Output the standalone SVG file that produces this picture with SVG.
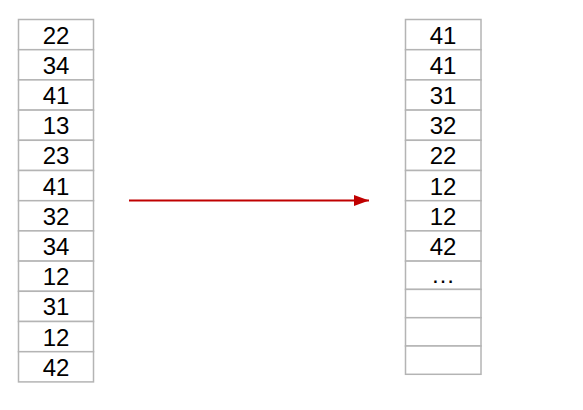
<svg xmlns="http://www.w3.org/2000/svg" width="583" height="410" viewBox="0 0 583 410">
<style>
.cell{fill:#ffffff;stroke:#b4b4b4;stroke-width:1.5}
.t{font-family:"Liberation Sans",Arial,sans-serif;font-size:24px;fill:#000;text-anchor:middle}
</style>
<defs>
<marker id="ah" markerWidth="15" markerHeight="11" refX="15" refY="5.5" orient="auto" markerUnits="userSpaceOnUse">
<path d="M0,0 L15,5.5 L0,11 Z" fill="#c00000"/>
</marker>
</defs>
<rect width="583" height="410" fill="#ffffff"/>
<g id="left-array">
<rect class="cell" x="18.5" y="19.5" width="75" height="30.2"/>
<rect class="cell" x="18.5" y="49.7" width="75" height="30.2"/>
<rect class="cell" x="18.5" y="79.9" width="75" height="30.2"/>
<rect class="cell" x="18.5" y="110.1" width="75" height="30.2"/>
<rect class="cell" x="18.5" y="140.3" width="75" height="30.2"/>
<rect class="cell" x="18.5" y="170.5" width="75" height="30.2"/>
<rect class="cell" x="18.5" y="200.7" width="75" height="30.2"/>
<rect class="cell" x="18.5" y="230.9" width="75" height="30.2"/>
<rect class="cell" x="18.5" y="261.1" width="75" height="30.2"/>
<rect class="cell" x="18.5" y="291.3" width="75" height="30.2"/>
<rect class="cell" x="18.5" y="321.5" width="75" height="30.2"/>
<rect class="cell" x="18.5" y="351.7" width="75" height="30.2"/>
<text class="t" x="56" y="43.5">22</text>
<text class="t" x="56" y="73.7">34</text>
<text class="t" x="56" y="103.9">41</text>
<text class="t" x="56" y="134.1">13</text>
<text class="t" x="56" y="164.3">23</text>
<text class="t" x="56" y="194.5">41</text>
<text class="t" x="56" y="224.7">32</text>
<text class="t" x="56" y="254.9">34</text>
<text class="t" x="56" y="285.1">12</text>
<text class="t" x="56" y="315.3">31</text>
<text class="t" x="56" y="345.5">12</text>
<text class="t" x="56" y="375.7">42</text>
</g>
<g id="right-array">
<rect class="cell" x="405.5" y="19.5" width="75.5" height="30.2"/>
<rect class="cell" x="405.5" y="49.7" width="75.5" height="30.2"/>
<rect class="cell" x="405.5" y="79.9" width="75.5" height="30.2"/>
<rect class="cell" x="405.5" y="110.1" width="75.5" height="30.2"/>
<rect class="cell" x="405.5" y="140.3" width="75.5" height="30.2"/>
<rect class="cell" x="405.5" y="170.5" width="75.5" height="30.2"/>
<rect class="cell" x="405.5" y="200.7" width="75.5" height="30.2"/>
<rect class="cell" x="405.5" y="230.9" width="75.5" height="30.2"/>
<rect class="cell" x="405.5" y="261.1" width="75.5" height="28.3"/>
<rect class="cell" x="405.5" y="289.4" width="75.5" height="28.3"/>
<rect class="cell" x="405.5" y="317.7" width="75.5" height="28.3"/>
<rect class="cell" x="405.5" y="346" width="75.5" height="28.3"/>
<text class="t" x="443" y="43.5">41</text>
<text class="t" x="443" y="73.7">41</text>
<text class="t" x="443" y="103.9">31</text>
<text class="t" x="443" y="134.1">32</text>
<text class="t" x="443" y="164.3">22</text>
<text class="t" x="443" y="194.5">12</text>
<text class="t" x="443" y="224.7">12</text>
<text class="t" x="443" y="254.9">42</text>
<text class="t" x="443" y="283">…</text>
</g>
<g id="connectors">
<line x1="129" y1="200.5" x2="369" y2="200.5" stroke="#c00000" stroke-width="2" marker-end="url(#ah)"/>
</g>
</svg>
